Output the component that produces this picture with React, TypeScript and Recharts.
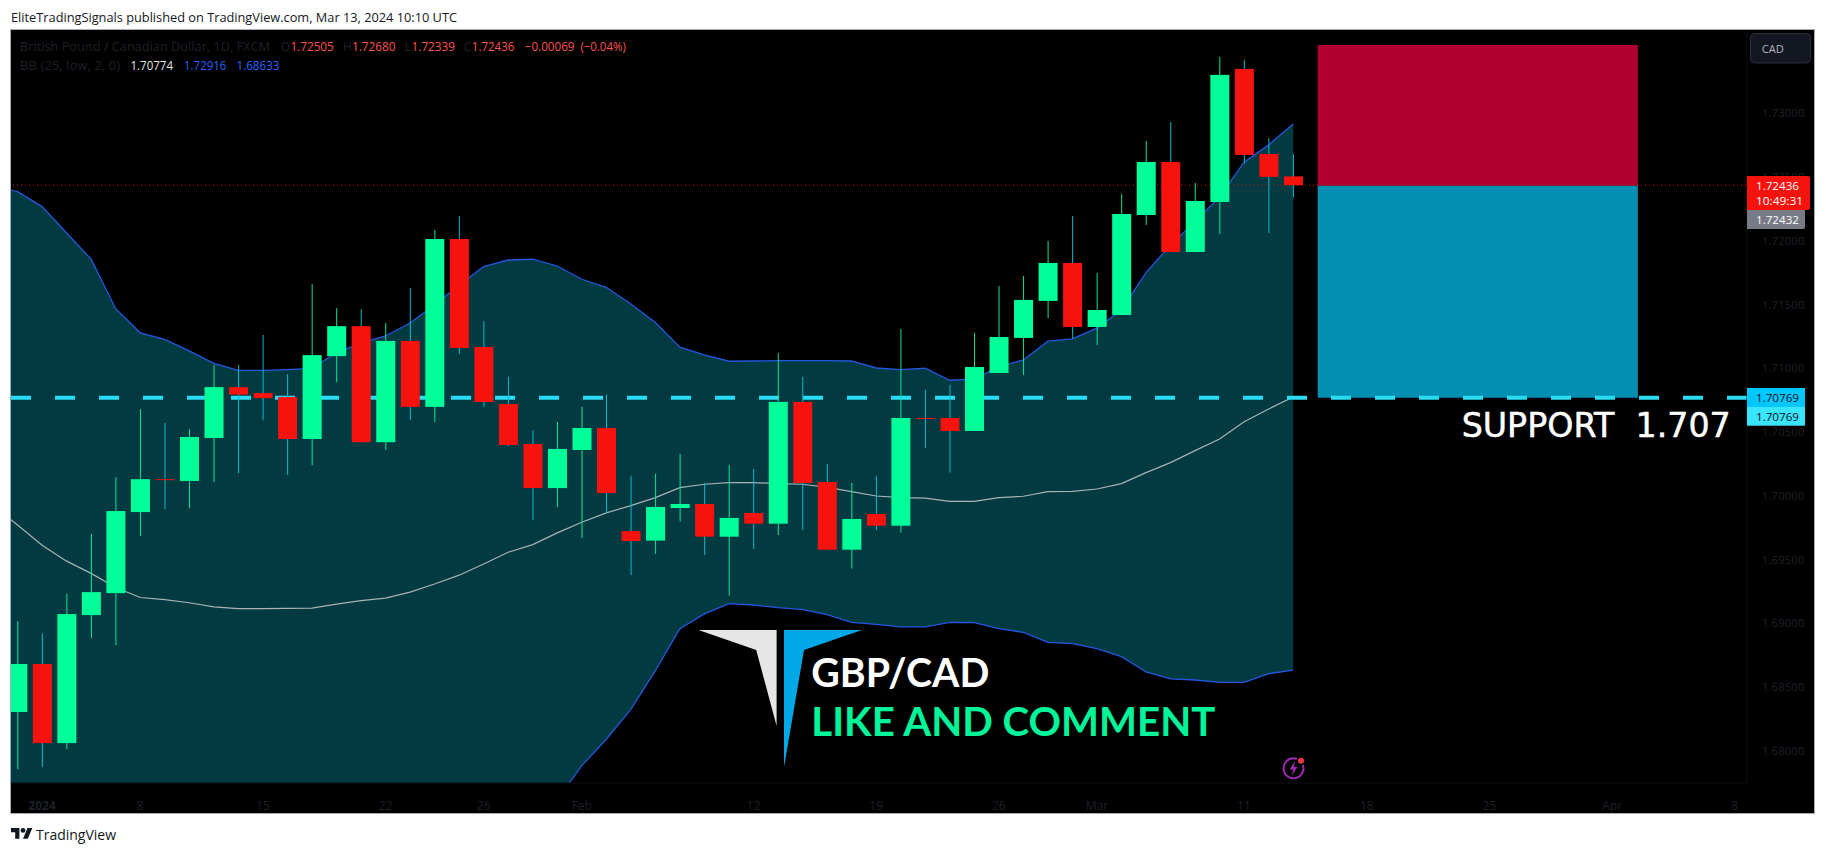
import React from 'react';
import {
  Area,
  Bar,
  ComposedChart,
  Line,
  ReferenceArea,
  XAxis,
  YAxis,
} from 'recharts';

// candles, one per trading day, starting at the first bar on screen
const opens = [
  1.68304, 1.6868, 1.6806, 1.69064, 1.69236, 1.69872, 1.7013, 1.70116, 1.70453, 1.70852, 1.70805,
  1.70774, 1.70445, 1.71095, 1.7133, 1.7042, 1.71214, 1.70697, 1.72014, 1.71167, 1.70719, 1.70406,
  1.7006, 1.70359, 1.70531, 1.69723, 1.69648, 1.69904, 1.69935, 1.69679, 1.69865, 1.69781, 1.70736,
  1.70108, 1.69577, 1.69857, 1.69765, 1.7061, 1.7061, 1.70508, 1.70963, 1.71238, 1.71528, 1.71826,
  1.71324, 1.71418, 1.72202, 1.72618, 1.71912, 1.72304, 1.73348, 1.72681, 1.72505,
];
const highs = [
  1.69017, 1.6892, 1.69233, 1.697, 1.70146, 1.7068, 1.7057, 1.70522, 1.71026, 1.71026, 1.71261,
  1.70954, 1.71661, 1.71471, 1.71463, 1.71355, 1.7163, 1.72085, 1.72194, 1.71369, 1.70932, 1.70514,
  1.70578, 1.70697, 1.70791, 1.70154, 1.70171, 1.70328, 1.701, 1.70241, 1.7021, 1.7112, 1.70932,
  1.70249, 1.701, 1.70155, 1.71308, 1.7083, 1.70869, 1.71277, 1.71645, 1.71724, 1.71998, 1.72195,
  1.71747, 1.72367, 1.72783, 1.72932, 1.72453, 1.73442, 1.73418, 1.72806, 1.7268,
];
const lows = [
  1.67855, 1.67874, 1.68013, 1.68884, 1.68829, 1.69684, 1.69894, 1.69902, 1.70107, 1.70176, 1.70594,
  1.70163, 1.7024, 1.7089, 1.7042, 1.70359, 1.70594, 1.70578, 1.71112, 1.70697, 1.70389, 1.69808,
  1.69911, 1.69667, 1.69864, 1.69377, 1.69543, 1.69797, 1.69535, 1.69216, 1.69582, 1.69692, 1.69731,
  1.69577, 1.69428, 1.69731, 1.69711, 1.70375, 1.70181, 1.70508, 1.70963, 1.70947, 1.71394, 1.7123,
  1.71183, 1.71418, 1.72124, 1.71912, 1.71912, 1.72053, 1.72608, 1.72061, 1.72339,
];
const closes = [
  1.6868, 1.6806, 1.69072, 1.69244, 1.6988, 1.7013, 1.70127, 1.70461, 1.70852, 1.70793, 1.70766,
  1.70445, 1.71103, 1.7133, 1.7042, 1.71214, 1.70697, 1.72014, 1.71159, 1.70735, 1.70398, 1.7006,
  1.70367, 1.70531, 1.70021, 1.69645, 1.69912, 1.69935, 1.69679, 1.69826, 1.69781, 1.70736, 1.701,
  1.69577, 1.69818, 1.69765, 1.7061, 1.70604, 1.70508, 1.7101, 1.71245, 1.71536, 1.71826, 1.71324,
  1.71457, 1.7221, 1.72618, 1.71912, 1.72312, 1.73301, 1.72673, 1.72501, 1.72436,
];

// Bollinger bands, the first value belongs to the day just left of the screen
const upperBand = [
  1.7243, 1.72385, 1.72268, 1.72061, 1.71855, 1.71467, 1.71278, 1.71226, 1.71136, 1.71038, 1.70983,
  1.70983, 1.7099, 1.70999, 1.71121, 1.71198, 1.71253, 1.71355, 1.71496, 1.71653, 1.71797, 1.71849,
  1.71855, 1.71802, 1.71698, 1.71635, 1.71504, 1.71358, 1.71165, 1.71104, 1.71055, 1.71057, 1.7106,
  1.7106, 1.7106, 1.71057, 1.71002, 1.70989, 1.71, 1.70906, 1.70914, 1.71012, 1.71065, 1.71212,
  1.7123, 1.71314, 1.71457, 1.7175, 1.71967, 1.7215, 1.72346, 1.72616, 1.72752, 1.72916,
];
const midBand = [
  1.69925, 1.6977, 1.69612, 1.69487, 1.69391, 1.6928, 1.69202, 1.69186, 1.69161, 1.69128, 1.69114,
  1.69114, 1.69117, 1.69119, 1.6915, 1.69178, 1.69197, 1.69244, 1.69308, 1.69377, 1.69465, 1.69557,
  1.69617, 1.69709, 1.69792, 1.69866, 1.69922, 1.69985, 1.70064, 1.7009, 1.70103, 1.70103, 1.70095,
  1.7009, 1.70066, 1.70032, 1.69998, 1.69985, 1.69982, 1.69956, 1.69956, 1.69985, 1.69996, 1.70032,
  1.70035, 1.70053, 1.70095, 1.70181, 1.7026, 1.70354, 1.70445, 1.70581, 1.70681, 1.70774,
];
const lowerBand = [
  1.6742, 1.67155, 1.66956, 1.66913, 1.66927, 1.67093, 1.67126, 1.67146, 1.67186, 1.67218, 1.67245,
  1.67245, 1.67244, 1.67239, 1.67179, 1.67158, 1.67141, 1.67133, 1.6712, 1.67101, 1.67133, 1.67265,
  1.67379, 1.67616, 1.67883, 1.6809, 1.68325, 1.68628, 1.68957, 1.69073, 1.69154, 1.69143, 1.69122,
  1.69107, 1.69067, 1.69007, 1.68991, 1.68971, 1.68971, 1.69007, 1.69005, 1.68957, 1.68929, 1.6885,
  1.6884, 1.68801, 1.68738, 1.68618, 1.68563, 1.68555, 1.68536, 1.68536, 1.68604, 1.68633,
];

const priceTicks = [1.68, 1.685, 1.69, 1.695, 1.7, 1.705, 1.71, 1.715, 1.72, 1.725, 1.73];
const timeTicks = [1, 5, 10, 15, 19, 23, 30, 35, 40, 44, 50, 55, 60, 65, 70];
const timeLabels = ['2024', '8', '15', '22', '26', 'Feb', '12', '19', '26', 'Mar', '11', '18', '25', 'Apr', '8'];

const supportLevel = 1.70769;
const lastPrice = 1.72436;
const positionTop = 1.73536;
const positionEntry = 1.72432;
const positionStart = 53;
const positionEnd = 66.05;

const rows = upperBand.map((upper, k) => ({
  day: k - 1,
  upper,
  mid: midBand[k],
  lower: lowerBand[k],
  open: opens[k - 1],
  high: highs[k - 1],
  low: lows[k - 1],
  close: closes[k - 1],
}));

// horizontal levels run past both pane edges and get clipped there
const supportRows = [
  { day: -1, level: supportLevel },
  { day: 71, level: supportLevel },
];
const lastPriceRows = [
  { day: -1, level: lastPrice },
  { day: 71, level: lastPrice },
];

const UP = '#00ff99';
const DOWN = '#f7130d';
const UP_WICK = '#00e896';
const DOWN_WICK = '#00bcd4';
const DIM = '#1c2029';
const FONT = '"Open Sans", sans-serif';

const Candle = (props: any) => {
  const { x, y, width, height, payload } = props;
  if (payload.high == null || !height) return null;
  const perUnit = height / (payload.high - payload.low);
  const isUp = payload.close >= payload.open;
  const top = y + (payload.high - Math.max(payload.open, payload.close)) * perUnit;
  const bodyH = Math.max(Math.abs(payload.close - payload.open) * perUnit, 1);
  const cx = x + width / 2;
  return (
    <g>
      <line x1={cx} x2={cx} y1={y} y2={y + height} stroke={isUp ? UP_WICK : DOWN_WICK} strokeWidth={1} />
      <rect x={x} y={top} width={width} height={bodyH} fill={isUp ? UP : DOWN} />
    </g>
  );
};

const TimeTick = (props: any) => {
  const { x, y, payload } = props;
  const label = timeLabels[timeTicks.indexOf(payload.value)];
  return (
    <text x={x} y={y + 7} textAnchor="middle" dominantBaseline="central" fill={DIM} fontSize={12} fontFamily={FONT} fontWeight={label === '2024' ? 700 : 400}>
      {label}
    </text>
  );
};

const Label = ({ x, y, w, color, children, size = 11 }: any) => (
  <text
    x={x}
    y={y}
    fill={color}
    fontFamily={FONT}
    fontSize={size}
    textLength={w}
    lengthAdjust="spacingAndGlyphs"
    dominantBaseline="central"
  >
    {children}
  </text>
);

const Overlay = () => (
  <svg width={1826} height={853} style={{ position: 'absolute', left: 0, top: 0, pointerEvents: 'none' }}>
    {/* legend */}
    <Label x={20} y={46.5} w={250} color={DIM} size={12}>British Pound / Canadian Dollar, 1D, FXCM</Label>
    <Label x={281} y={46.5} w={9} color={DIM} size={12}>O</Label>
    <Label x={290.4} y={46.5} w={43.4} color="#ff5252" size={12}>1.72505</Label>
    <Label x={343} y={46.5} w={9} color={DIM} size={12}>H</Label>
    <Label x={351.9} y={46.5} w={43.7} color="#ff5252" size={12}>1.72680</Label>
    <Label x={404.5} y={46.5} w={7} color={DIM} size={12}>L</Label>
    <Label x={411.6} y={46.5} w={43.4} color="#ff5252" size={12}>1.72339</Label>
    <Label x={463.8} y={46.5} w={8} color={DIM} size={12}>C</Label>
    <Label x={471.8} y={46.5} w={42.5} color="#ff5252" size={12}>1.72436</Label>
    <Label x={524.8} y={46.5} w={49.7} color="#ff5252" size={12}>−0.00069</Label>
    <Label x={580.4} y={46.5} w={45.4} color="#ff5252" size={12}>(−0.04%)</Label>
    <Label x={20} y={65.5} w={100} color={DIM} size={12}>BB (25, low, 2, 0)</Label>
    <Label x={130.5} y={65.5} w={42.5} color="#e8e8e8" size={12}>1.70774</Label>
    <Label x={184} y={65.5} w={42.4} color="#2962ff" size={12}>1.72916</Label>
    <Label x={236.5} y={65.5} w={43} color="#2962ff" size={12}>1.68633</Label>

    {/* price scale badges */}
    <rect x={1750.5} y={33.5} width={60} height={29.5} rx={4} fill="#131722" stroke="#2a2e39" />
    <Label x={1761.7} y={48.5} w={22} color="#b2b5be">CAD</Label>
    <path d="M1747 176H1808a2 2 0 0 1 2 2V208a2 2 0 0 1 -2 2H1747Z" fill={DOWN} />
    <Label x={1756} y={185.7} w={43} color="#ffffff">1.72436</Label>
    <Label x={1756} y={200.3} w={47} color="#ffffff">10:49:31</Label>
    <path d="M1747 210H1805V227a2 2 0 0 1 -2 2H1747Z" fill="#787b86" />
    <Label x={1756} y={219.5} w={43} color="#ffffff">1.72432</Label>
    <rect x={1747} y={388} width={58} height={19} fill="#00c8ff" />
    <Label x={1756} y={397.5} w={43} color="#0b0e14">1.70769</Label>
    <rect x={1747} y={407} width={58} height={18.7} fill="#38e6ff" />
    <Label x={1756} y={416.5} w={43} color="#0b0e14">1.70769</Label>

    {/* drawings on the chart */}
    <text x={1461.7} y={437} fill="#ffffff" stroke="#ffffff" strokeWidth={0.5} fontFamily='"DejaVu Sans", sans-serif' fontSize={33} textLength={269} lengthAdjust="spacingAndGlyphs" xmlSpace="preserve">SUPPORT  1.707</text>
    <polygon points="698.5,630 776.6,630 776.6,726 756.2,650" fill="#e6e6e6" />
    <polygon points="784,630 862,630 804,650 784,767.3" fill="#00a8e8" />
    <text x={811.3} y={686.7} fill="#ffffff" fontFamily="Lato, sans-serif" fontWeight={700} fontSize={41} textLength={178} lengthAdjust="spacingAndGlyphs">GBP/CAD</text>
    <text x={811.3} y={735.7} fill="#00f59b" fontFamily="Lato, sans-serif" fontWeight={700} fontSize={41} textLength={404} lengthAdjust="spacingAndGlyphs">LIKE AND COMMENT</text>

    {/* news icon */}
    <circle cx={1293.5} cy={768.3} r={10} fill="none" stroke="#9c27b0" strokeWidth={2} />
    <polygon points="1295,761 1289.5,769.5 1293,769.5 1292,775.5 1297.5,767 1294,767" fill="#9c27b0" />
    <circle cx={1301} cy={760.7} r={4.5} fill="#000000" />
    <circle cx={1301} cy={760.7} r={3} fill="#f23645" />

    {/* header and footer */}
    <Label x={11} y={16.5} w={446} color="#131722" size={13}>EliteTradingSignals published on TradingView.com, Mar 13, 2024 10:10 UTC</Label>
    <g transform="translate(11 825.6) scale(0.6)" fill="#131722">
      <path d="M14 22H7V11H0V4h14v18zM28 22h-8l7.5-18h8L28 22z" />
      <circle cx={20} cy={8} r={4} />
    </g>
    <Label x={36} y={834.4} w={80} color="#131722" size={14}>TradingView</Label>
  </svg>
);

export default function App() {
  return (
    <div style={{ position: 'absolute', left: 0, top: 0, width: 1826, height: 853, background: '#ffffff', overflow: 'hidden' }}>
      <div style={{ position: 'absolute', left: 10, top: 29, width: 1803, height: 783, border: '1px solid #a9abb0', background: '#000000' }}>
        <ComposedChart
          width={1803}
          height={783}
          data={rows}
          margin={{ top: 0, right: 0, bottom: 0, left: 0 }}
          barSize={19}
        >
          <XAxis
            dataKey="day"
            type="number"
            domain={[-0.267, 70.5]}
            allowDataOverflow
            ticks={timeTicks}
            interval={0}
            height={30}
            tickLine={false}
            axisLine={{ stroke: '#0d0f14' }}
            tickMargin={9}
            tick={TimeTick}
          />
          <YAxis
            orientation="right"
            type="number"
            domain={[1.67747, 1.73653]}
            allowDataOverflow
            ticks={priceTicks}
            interval={0}
            width={67}
            tickLine={false}
            axisLine={{ stroke: '#0d0f14' }}
            tickMargin={9}
            tick={{ fill: DIM, fontSize: 11.5, fontFamily: FONT }}
            tickFormatter={(v: number) => v.toFixed(5)}
          />
          <Area
            dataKey={(d: any) => [d.lower, d.upper]}
            type="linear"
            fill="#023a42"
            fillOpacity={1}
            stroke="#2457e0"
            strokeWidth={1.3}
            dot={false}
            activeDot={false}
            isAnimationActive={false}
            zIndex={100}
          />
          <ReferenceArea x1={positionStart} x2={positionEnd} y1={positionEntry} y2={positionTop} fill="#b00030" fillOpacity={1} stroke="none" zIndex={110} />
          <ReferenceArea x1={positionStart} x2={positionEnd} y1={supportLevel} y2={positionEntry} fill="#038eb3" fillOpacity={1} stroke="none" zIndex={110} />
          <Line dataKey="mid" type="linear" stroke="#aab2b5" strokeWidth={1.2} dot={false} activeDot={false} isAnimationActive={false} zIndex={120} />
          <Line data={lastPriceRows} dataKey="level" type="linear" stroke="#f7130d" strokeWidth={1} strokeDasharray="1 3" dot={false} activeDot={false} isAnimationActive={false} zIndex={130} />
          <Line data={supportRows} dataKey="level" type="linear" stroke="#2bdcf3" strokeWidth={4} strokeDasharray="20 24" strokeDashoffset={26} dot={false} activeDot={false} isAnimationActive={false} zIndex={130} />
          <Bar dataKey={(d: any) => (d.high == null ? null : [d.low, d.high])} shape={Candle} isAnimationActive={false} zIndex={300} />
        </ComposedChart>
      </div>
      <Overlay />
    </div>
  );
}
